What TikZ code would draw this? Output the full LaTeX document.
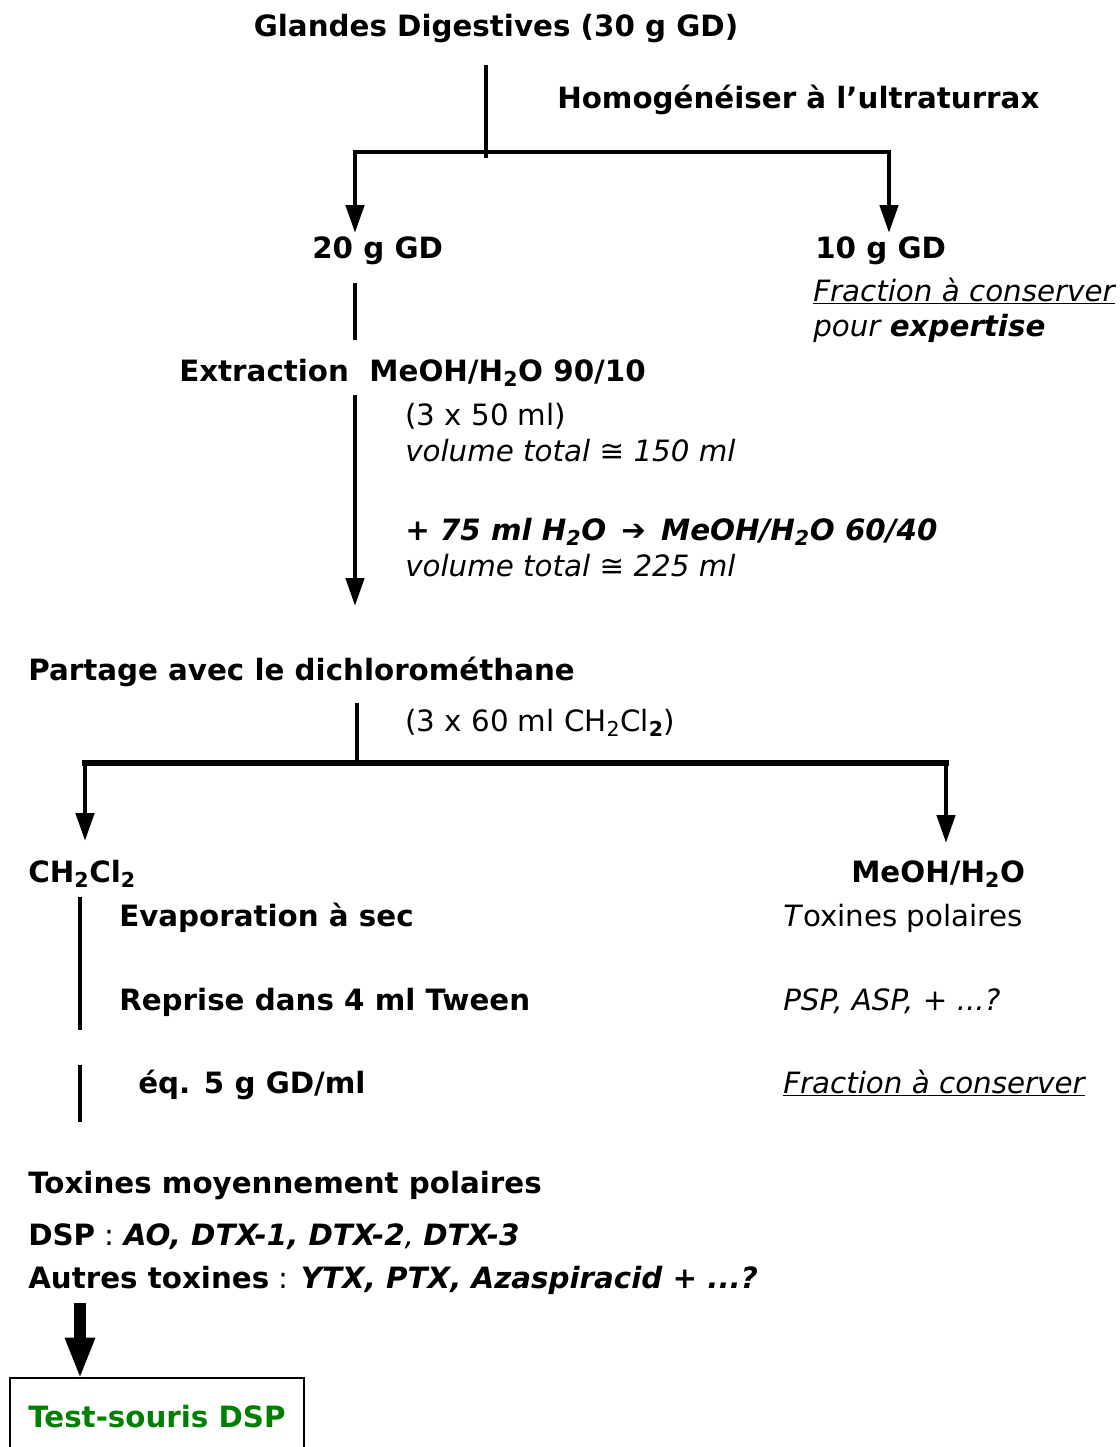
\documentclass[tikz,border=0pt]{standalone}
\usepackage{fontspec}
\setmainfont{DejaVu Sans}
\newfontfamily\symfont{DejaVu Sans}
\usetikzlibrary{arrows.meta}
\definecolor{testgreen}{RGB}{0,128,0}
\begin{document}
\begin{tikzpicture}[x=0.75pt,y=-0.75pt,
  every node/.style={font=\fontsize{22}{26}\selectfont, inner sep=0pt, anchor=base west},
  ln/.style={line width=3.4pt},
  lnh/.style={line width=3.8pt},
  arr/.style={line width=3.4pt,-{Triangle[length=21pt,width=13.5pt]}},
  bigarr/.style={line width=8.5pt,-{Triangle[length=31pt,width=20.5pt]}}
]
\useasboundingbox (0,0) rectangle (1120,1447);
\fill[white] (0,0) rectangle (1120,1447);

% texts
\node[anchor=base] (title) at (496,36) {\bfseries Glandes Digestives (30 g GD)};
\node (homog) at (557,108) {\bfseries Homogénéiser à l’ultraturrax};
\node (g20) at (312,258) {\bfseries 20 g GD};
\node (g10) at (815,258) {\bfseries 10 g GD};
\node (frac1) at (813,301) {\itshape \underline{Fraction à conserver}};
\node (pour) at (813,336) {\itshape pour \bfseries expertise};
\node (extr) at (179,381) {\bfseries Extraction\ \ MeOH/H\textsubscript{2}O 90/10};
\node (v50) at (405,425) {(3 x 50 ml)};
\node (vt150) at (405,461) {\itshape volume total ≅ 150 ml};
\node (add75) at (405,540) {\bfseries\itshape + 75 ml H\textsubscript{2}O\, {\symfont\upshape\bfseries ➔}\, MeOH/H\textsubscript{2}O 60/40};
\node (vt225) at (405,576) {\itshape volume total ≅ 225 ml};
\node (part) at (28,680) {\bfseries Partage avec le dichlorométhane};
\node (v60) at (405,731) {(3 x 60 ml CH\textsubscript{2}Cl\textsubscript{\bfseries 2})};
\node (ch2cl2) at (28,882) {\bfseries CH\textsubscript{2}Cl\textsubscript{2}};
\node (meoh) at (851,882) {\bfseries MeOH/H\textsubscript{2}O};
\node (evap) at (119,926) {\bfseries Evaporation à sec};
\node (toxp) at (783,926) {\textit{T}oxines polaires};
\node (repr) at (119,1010) {\bfseries Reprise dans 4 ml Tween};
\node (psp) at (783,1010) {\itshape PSP, ASP, + ...?};
\node (eq) at (138,1093) {\bfseries éq. 5 g GD/ml};
\node (frac2) at (783,1093) {\itshape \underline{Fraction à conserver}};
\node (toxm) at (28,1193) {\bfseries Toxines moyennement polaires};
\node (dsp) at (28,1245) {\textbf{DSP} : \textbf{\textit{AO, DTX-1, DTX-2}}\textit{, }\textbf{\textit{DTX-3}}};
\node (autres) at (28,1288) {\textbf{Autres toxines} : \textbf{\textit{YTX, PTX, Azaspiracid + ...?}}};

% box
\draw[line width=1.9pt] (10,1452) -- (10,1378) -- (304,1378) -- (304,1452);
\node[text=testgreen] (test) at (28,1427) {\bfseries Test-souris DSP};

% coordinates
\coordinate (a1) at (486,65);
\coordinate (a2) at (486,158);
\coordinate (hL) at (355,152);
\coordinate (hR) at (889,152);
\coordinate (hLe) at (355,233);
\coordinate (hRe) at (889,233);
\coordinate (b1) at (355,283);
\coordinate (b2) at (355,340);
\coordinate (c1) at (355,395);
\coordinate (c2) at (355,606);
\coordinate (d1) at (357,703);
\coordinate (d2) at (357,763);
\coordinate (eL) at (85,763);
\coordinate (eR) at (946,763);
\coordinate (eLe) at (85,841);
\coordinate (eRe) at (946,843);
\coordinate (f1) at (80,897);
\coordinate (f2) at (80,1030);
\coordinate (g1) at (80,1065);
\coordinate (g2) at (80,1122);
\coordinate (k1) at (80,1303);
\coordinate (k2) at (80,1379);

% connectors
\draw[ln] (a1) -- (a2);
\draw[ln,line cap=rect] (hL) -- (hR);
\draw[arr] (hL) -- (hLe);
\draw[arr] (hR) -- (hRe);
\draw[ln] (b1) -- (b2);
\draw[arr] (c1) -- (c2);
\draw[ln] (d1) -- (d2);
\draw[lnh,line cap=rect] (eL) -- (eR);
\draw[arr] (eL) -- (eLe);
\draw[arr] (eR) -- (eRe);
\draw[ln] (f1) -- (f2);
\draw[ln] (g1) -- (g2);
\draw[bigarr] (k1) -- (k2);
\end{tikzpicture}
\end{document}
